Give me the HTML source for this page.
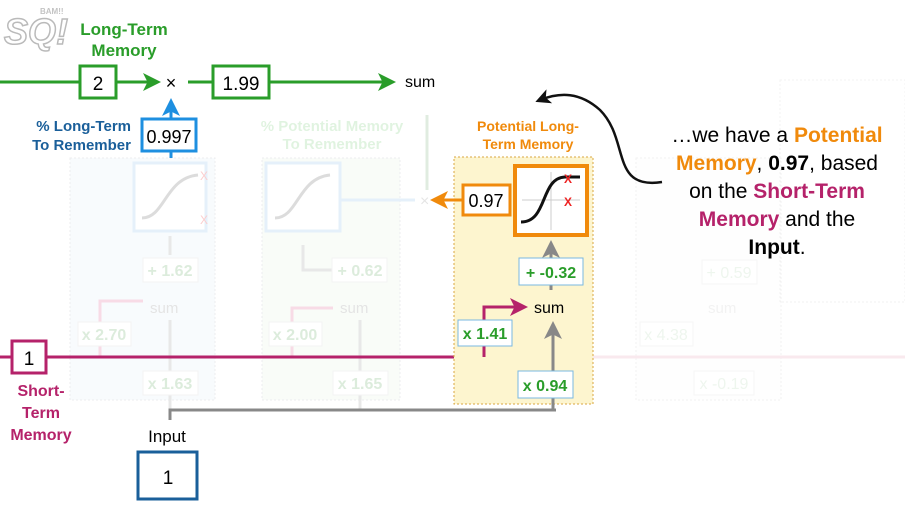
<!DOCTYPE html>
<html><head><meta charset="utf-8"><style>
html,body{margin:0;padding:0;background:#fff;}
svg{display:block;font-family:"Liberation Sans",sans-serif;}
</style></head><body>
<svg width="905" height="512" viewBox="0 0 905 512">
<defs>
<marker id="ag" markerWidth="6" markerHeight="6" refX="4" refY="3" orient="auto"><path d="M0,0 L6,3 L0,6 L1.5,3z" fill="#2a9d2a"/></marker>
<marker id="ab" markerWidth="6" markerHeight="6" refX="4" refY="3" orient="auto"><path d="M0,0 L6,3 L0,6 L1.5,3z" fill="#1e8fe0"/></marker>
<marker id="ao" markerWidth="6" markerHeight="6" refX="4" refY="3" orient="auto"><path d="M0,0 L6,3 L0,6 L1.5,3z" fill="#f08a0c"/></marker>
<marker id="am" markerWidth="6" markerHeight="6" refX="4" refY="3" orient="auto"><path d="M0,0 L6,3 L0,6 L1.5,3z" fill="#b5226a"/></marker>
<marker id="ay" markerWidth="6" markerHeight="6" refX="4" refY="3" orient="auto"><path d="M0,0 L6,3 L0,6 L1.5,3z" fill="#888"/></marker>
<marker id="ak" markerWidth="6" markerHeight="6" refX="4" refY="3" orient="auto"><path d="M0,0 L6,3 L0,6 L1.5,3z" fill="#111"/></marker>
</defs>

<g opacity="0.5">
<text x="4" y="44" font-size="36" font-weight="bold" font-style="italic" fill="none" stroke="#777" stroke-width="1.5">SQ!</text>
<text x="40" y="14" font-size="8" fill="#888" font-weight="bold">BAM!!</text>
</g>

<g opacity="0.22">
<rect x="70" y="158" width="145" height="242" fill="#e3eef8" stroke="#aab" stroke-dasharray="2 2"/>
<rect x="134" y="163" width="72" height="68" fill="#fff" stroke="#8bc0ec" stroke-width="3"/>
<path d="M142,218 C165,218 165,178 198,175" stroke="#666" stroke-width="3" fill="none"/>
<text x="200" y="180" fill="#e22" font-size="12">X</text><text x="200" y="224" fill="#e22" font-size="12">X</text>
<line x1="170" y1="255" x2="170" y2="236" stroke="#999" stroke-width="3"/>
<rect x="143" y="258" width="55" height="24" fill="#fff" stroke="#ccc"/><text x="170" y="276" font-size="16" text-anchor="middle" fill="#6a6" font-weight="bold">+ 1.62</text>
<text x="150" y="313" font-size="15" fill="#888">sum</text>
<path d="M100,357 V301 H143" stroke="#e06090" stroke-width="3" fill="none"/>
<rect x="78" y="322" width="53" height="24" fill="#fff" stroke="#ccc"/><text x="104" y="340" font-size="16" text-anchor="middle" fill="#6a6" font-weight="bold">x 2.70</text>
<line x1="170" y1="410" x2="170" y2="320" stroke="#999" stroke-width="3"/>
<rect x="143" y="371" width="55" height="24" fill="#fff" stroke="#ccc"/><text x="170" y="389" font-size="16" text-anchor="middle" fill="#6a6" font-weight="bold">x 1.63</text>
</g>
<g opacity="0.22">
<rect x="262" y="158" width="138" height="242" fill="#e7f4e2" stroke="#aab" stroke-dasharray="2 2"/>
<rect x="266" y="163" width="74" height="68" fill="#fff" stroke="#8bc0ec" stroke-width="3"/>
<path d="M275,218 C298,218 298,178 330,175" stroke="#666" stroke-width="3" fill="none"/>
<line x1="340" y1="200" x2="415" y2="200" stroke="#8bc0ec" stroke-width="3"/>
<text x="420" y="206" font-size="16" fill="#888">×</text>
<line x1="427" y1="190" x2="427" y2="115" stroke="#7a7" stroke-width="3"/>
<path d="M335,270 H303 V245" stroke="#999" stroke-width="3" fill="none"/>
<rect x="332" y="258" width="55" height="24" fill="#fff" stroke="#ccc"/><text x="360" y="276" font-size="16" text-anchor="middle" fill="#6a6" font-weight="bold">+ 0.62</text>
<text x="340" y="313" font-size="15" fill="#888">sum</text>
<path d="M292,357 V308 H333" stroke="#e06090" stroke-width="3" fill="none"/>
<rect x="269" y="322" width="53" height="24" fill="#fff" stroke="#ccc"/><text x="295" y="340" font-size="16" text-anchor="middle" fill="#6a6" font-weight="bold">x 2.00</text>
<line x1="360" y1="410" x2="360" y2="320" stroke="#999" stroke-width="3"/>
<rect x="333" y="371" width="55" height="24" fill="#fff" stroke="#ccc"/><text x="360" y="389" font-size="16" text-anchor="middle" fill="#6a6" font-weight="bold">x 1.65</text>
<text x="332" y="131" font-size="15" font-weight="bold" fill="#7c7" text-anchor="middle">% Potential Memory</text>
<text x="332" y="149" font-size="15" font-weight="bold" fill="#7c7" text-anchor="middle">To Remember</text>
</g>
<g opacity="0.1">
<rect x="636" y="158" width="145" height="242" fill="#fafafa" stroke="#888" stroke-dasharray="2 2"/>
<rect x="702" y="260" width="55" height="24" fill="#fff" stroke="#aaa"/><text x="729" y="278" font-size="16" text-anchor="middle" fill="#6a6">+ 0.59</text>
<text x="708" y="313" font-size="15" fill="#888">sum</text>
<rect x="640" y="322" width="53" height="24" fill="#fff" stroke="#aaa"/><text x="666" y="340" font-size="16" text-anchor="middle" fill="#6a6">x 4.38</text>
<rect x="694" y="371" width="60" height="24" fill="#fff" stroke="#aaa"/><text x="724" y="389" font-size="16" text-anchor="middle" fill="#6a6">x -0.19</text>
<rect x="780" y="80" width="125" height="222" fill="none" stroke="#888" stroke-dasharray="2 2"/>
<line x1="593" y1="357" x2="905" y2="357" stroke="#c36" stroke-width="3"/>
</g>

<text x="124" y="35" font-size="17" font-weight="bold" fill="#2a9d2a" text-anchor="middle">Long-Term</text>
<text x="124" y="56" font-size="17" font-weight="bold" fill="#2a9d2a" text-anchor="middle">Memory</text>
<line x1="0" y1="82" x2="155" y2="82" stroke="#2a9d2a" stroke-width="3" marker-end="url(#ag)"/>
<rect x="80" y="66" width="36" height="32" fill="#fff" stroke="#2a9d2a" stroke-width="3"/>
<text x="98" y="90" font-size="19" text-anchor="middle">2</text>
<text x="171" y="89" font-size="18" text-anchor="middle">×</text>
<line x1="188" y1="82" x2="390" y2="82" stroke="#2a9d2a" stroke-width="3" marker-end="url(#ag)"/>
<rect x="213" y="66" width="56" height="32" fill="#fff" stroke="#2a9d2a" stroke-width="3"/>
<text x="241" y="90" font-size="19" text-anchor="middle">1.99</text>
<text x="405" y="87" font-size="16">sum</text>

<line x1="171" y1="158" x2="171" y2="104" stroke="#1e8fe0" stroke-width="3" marker-end="url(#ab)"/>
<rect x="142" y="119" width="54" height="32" fill="#fff" stroke="#1e8fe0" stroke-width="3"/>
<text x="169" y="143" font-size="18" text-anchor="middle">0.997</text>
<text x="131" y="131" font-size="15" font-weight="bold" fill="#1a5f9a" text-anchor="end">% Long-Term</text>
<text x="131" y="150" font-size="15" font-weight="bold" fill="#1a5f9a" text-anchor="end">To Remember</text>

<line x1="0" y1="357" x2="540" y2="357" stroke="#b5226a" stroke-width="3"/>
<line x1="560" y1="357" x2="593" y2="357" stroke="#b5226a" stroke-width="3"/>
<rect x="12" y="341" width="34" height="32" fill="#fff" stroke="#b5226a" stroke-width="3"/>
<text x="29" y="365" font-size="19" text-anchor="middle">1</text>
<text x="41" y="396" font-size="16" font-weight="bold" fill="#b5226a" text-anchor="middle">Short-</text>
<text x="41" y="418" font-size="16" font-weight="bold" fill="#b5226a" text-anchor="middle">Term</text>
<text x="41" y="440" font-size="16" font-weight="bold" fill="#b5226a" text-anchor="middle">Memory</text>
<path d="M170,420 V410 H556" stroke="#888" stroke-width="3" fill="none"/>
<text x="167" y="442" font-size="17" text-anchor="middle">Input</text>
<rect x="138" y="452" width="59" height="47" fill="#fff" stroke="#1a5f9a" stroke-width="3"/>
<text x="168" y="484" font-size="19" text-anchor="middle">1</text>

<g>
<text x="528" y="131" font-size="14" font-weight="bold" fill="#f08a0c" text-anchor="middle">Potential Long-</text>
<text x="528" y="149" font-size="14" font-weight="bold" fill="#f08a0c" text-anchor="middle">Term Memory</text>
<rect x="454" y="157" width="139" height="247" fill="#fdf5cf" stroke="#d9a640" stroke-dasharray="2 2"/>
<rect x="515" y="166" width="72" height="69" fill="#fff" stroke="#f08a0c" stroke-width="4"/>
<line x1="522" y1="200" x2="580" y2="200" stroke="#ccc"/><line x1="551" y1="172" x2="551" y2="230" stroke="#ccc"/>
<path d="M521,222 C548,222 540,178 565,177 L580,177" stroke="#111" stroke-width="3" fill="none"/>
<text x="564" y="183" font-size="12" fill="#e22" font-weight="bold">X</text>
<text x="564" y="206" font-size="12" fill="#e22" font-weight="bold">X</text>
<line x1="462" y1="200" x2="436" y2="200" stroke="#f08a0c" stroke-width="3" marker-end="url(#ao)"/>
<rect x="463" y="185" width="47" height="30" fill="#fff" stroke="#f08a0c" stroke-width="3"/>
<text x="486" y="207" font-size="18" text-anchor="middle">0.97</text>
<line x1="551" y1="290" x2="551" y2="246" stroke="#888" stroke-width="3" marker-end="url(#ay)"/>
<rect x="519" y="258" width="64" height="27" fill="#fff" stroke="#7ab8e0"/>
<text x="551" y="278" font-size="16" font-weight="bold" fill="#2a9d2a" text-anchor="middle">+ -0.32</text>
<text x="534" y="313" font-size="16">sum</text>
<path d="M484,357 V307 H522" stroke="#b5226a" stroke-width="3" fill="none" marker-end="url(#am)"/>
<rect x="458" y="320" width="54" height="26" fill="#fff" stroke="#7ab8e0"/>
<text x="485" y="339" font-size="16" font-weight="bold" fill="#2a9d2a" text-anchor="middle">x 1.41</text>
<line x1="553" y1="410" x2="553" y2="327" stroke="#888" stroke-width="3" marker-end="url(#ay)"/>
<rect x="518" y="371" width="55" height="27" fill="#fff" stroke="#7ab8e0"/>
<text x="545" y="391" font-size="16" font-weight="bold" fill="#2a9d2a" text-anchor="middle">x 0.94</text>
</g>

<path d="M662,182 C610,190 630,140 600,110 C580,92 560,92 540,100" stroke="#111" stroke-width="2.5" fill="none" marker-end="url(#ak)"/>
<g font-size="21" text-anchor="middle">
<text x="777" y="142">…we have a <tspan fill="#f08a0c" font-weight="bold">Potential</tspan></text>
<text x="777" y="170"><tspan fill="#f08a0c" font-weight="bold">Memory</tspan>, <tspan font-weight="bold">0.97</tspan>, based</text>
<text x="777" y="198">on the <tspan fill="#b5226a" font-weight="bold">Short-Term</tspan></text>
<text x="777" y="226"><tspan fill="#b5226a" font-weight="bold">Memory</tspan> and the</text>
<text x="777" y="254"><tspan font-weight="bold">Input</tspan>.</text>
</g>
</svg>
</body></html>
